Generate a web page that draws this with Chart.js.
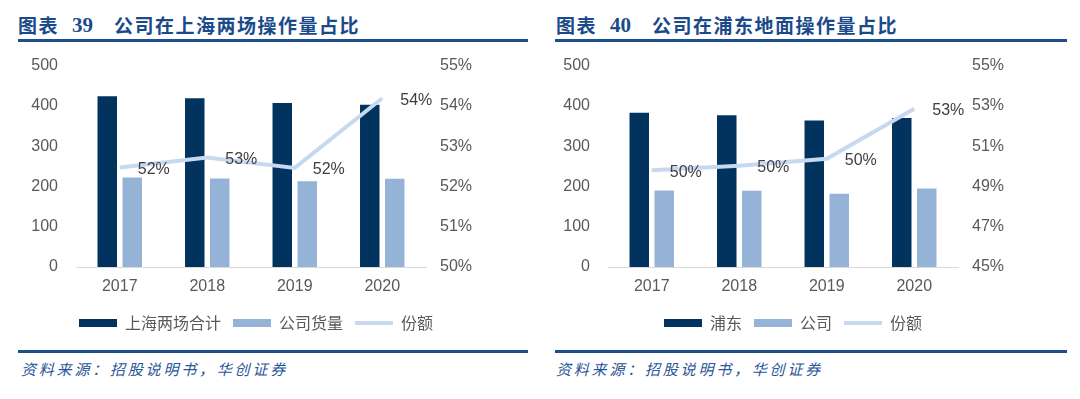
<!DOCTYPE html>
<html>
<head>
<meta charset="utf-8">
<script src="https://cdn.jsdelivr.net/npm/chart.js@4.4.0/dist/chart.umd.min.js"></script>
<style>
  body { margin:0; width:1080px; height:399px; background:#fff; position:relative; overflow:hidden; }
  .ttl { position:absolute; top:15px; font-family:"Noto Sans CJK SC"; font-weight:700; font-size:19px; line-height:20px; color:#1b4a8a; letter-spacing:1.5px; white-space:nowrap; }
  .ttl.num { font-family:"Liberation Serif"; font-size:21px; letter-spacing:0; }
  .rule { position:absolute; height:3px; background:#1f4e8c; }
  .src { position:absolute; top:360px; font-family:"Noto Sans CJK SC"; font-style:italic; font-size:15px; line-height:18px; color:#2a5597; letter-spacing:2.8px; white-space:nowrap; }
  canvas { position:absolute; top:38px; }
</style>
</head>
<body>
  <div class="ttl" style="left:18px">图表</div>
  <div class="ttl num" style="left:72px">39</div>
  <div class="ttl" style="left:114px">公司在上海两场操作量占比</div>
  <div class="rule" style="left:18px; width:510px; top:39px"></div>

  <div class="ttl" style="left:556px">图表</div>
  <div class="ttl num" style="left:610px">40</div>
  <div class="ttl" style="left:652px">公司在浦东地面操作量占比</div>
  <div class="rule" style="left:555px; width:512px; top:39px"></div>

  <canvas id="chart-sh" width="512" height="303" style="left:0px"></canvas>
  <canvas id="chart-pd" width="522" height="303" style="left:532px"></canvas>

  <div class="rule" style="left:18px; width:510px; top:350px"></div>
  <div class="src" style="left:21px">资料来源：招股说明书，华创证券</div>
  <div class="rule" style="left:555px; width:512px; top:350px"></div>
  <div class="src" style="left:556px">资料来源：招股说明书，华创证券</div>

<script>
  const DOM = id => document.getElementById(id);

  // --- DATA ---
  const years = ['2017', '2018', '2019', '2020'];

  // 图表39 上海两场
  const shTotal = [424, 419, 407, 403];
  const shCompany = [222, 220, 213, 219];
  const shShare = [52.47, 52.72, 52.46, 54.19];

  // 图表40 浦东地面
  const pdTotal = [383, 377, 364, 370];
  const pdCompany = [190, 189, 182, 195];
  const pdShare = [49.8, 50.03, 50.37, 52.86];

  const NAVY = '#02335f';
  const SKY = '#95b3d7';
  const PALE = '#c6d9f1';
  const tickFont = { family: '"Liberation Sans", Arial', size: 16 };

  // share % labels next to the line points
  const shareLabels = {
    id: 'shareLabels',
    afterDatasetsDraw(chart) {
      const meta = chart.getDatasetMeta(2);
      const vals = chart.data.datasets[2].data;
      const ctx = chart.ctx;
      ctx.save();
      ctx.font = '16px "Liberation Sans", Arial';
      ctx.fillStyle = '#404040';
      ctx.textBaseline = 'middle';
      ctx.textAlign = 'left';
      meta.data.forEach((pt, i) => ctx.fillText(Math.round(vals[i]) + '%', pt.x + 18, pt.y + 2));
      ctx.restore();
    }
  };

  // note: y tick padding also pads the chart top (label half height + padding ~ 27.6px),
  // so the canvas sits at top 38 to put the 500 / 55% line at y 66
  function renderCombo(canvasId, names, totals, company, share, shareMin, shareMax, shareStep) {
    return new Chart(DOM(canvasId).getContext('2d'), {
      data: {
        labels: years,
        datasets: [
          { type: 'bar', label: names[0], data: totals, backgroundColor: NAVY, yAxisID: 'y', order: 2,
            barPercentage: 0.78, categoryPercentage: 0.571 },
          { type: 'bar', label: names[1], data: company, backgroundColor: SKY, yAxisID: 'y', order: 3,
            barPercentage: 0.78, categoryPercentage: 0.571 },
          { type: 'line', label: names[2], data: share, borderColor: PALE, backgroundColor: PALE, borderWidth: 4,
            pointRadius: 0, tension: 0, yAxisID: 'y1', order: 1 }
        ]
      },
      options: {
        responsive: false, animation: false,
        layout: { padding: 0 },
        plugins: {
          tooltip: { enabled: false },
          legend: {
            position: 'bottom',
            labels: {
              usePointStyle: true, pointStyleWidth: 38, boxHeight: 8, padding: 12,
              color: '#595959', font: { family: '"Noto Sans CJK SC"', size: 16 },
              generateLabels: chart => chart.data.datasets.map((ds, i) => ({
                text: ds.label, datasetIndex: i, hidden: false, fontColor: '#595959',
                fillStyle: ds.type === 'line' ? ds.borderColor : ds.backgroundColor,
                strokeStyle: ds.type === 'line' ? ds.borderColor : ds.backgroundColor,
                lineWidth: ds.type === 'line' ? 4 : 0,
                pointStyle: ds.type === 'line' ? 'line' : 'rect'
              }))
            }
          }
        },
        scales: {
          x: {
            grid: { display: false, drawTicks: false },
            border: { display: true, color: '#d9d9d9', width: 1 },
            ticks: { font: tickFont, color: '#595959', padding: 10 },
            afterFit: s => { s.height = 36; }
          },
          y: {
            position: 'left', min: 0, max: 500,
            grid: { display: false, drawTicks: false }, border: { display: false },
            ticks: { stepSize: 100, font: tickFont, color: '#595959', padding: 18 },
            afterFit: s => { s.width = 76; }
          },
          y1: {
            position: 'right', min: shareMin, max: shareMax,
            grid: { display: false, drawTicks: false }, border: { display: false },
            ticks: { stepSize: shareStep, font: tickFont, color: '#595959', padding: 14, callback: v => v + '%' },
            afterFit: s => { s.width = s.chart.width - 426; }
          }
        }
      },
      plugins: [shareLabels]
    });
  }

  renderCombo('chart-sh', ['上海两场合计', '公司货量', '份额'], shTotal, shCompany, shShare, 50, 55, 1);
  renderCombo('chart-pd', ['浦东', '公司', '份额'], pdTotal, pdCompany, pdShare, 45, 55, 2);
</script>
</body>
</html>
